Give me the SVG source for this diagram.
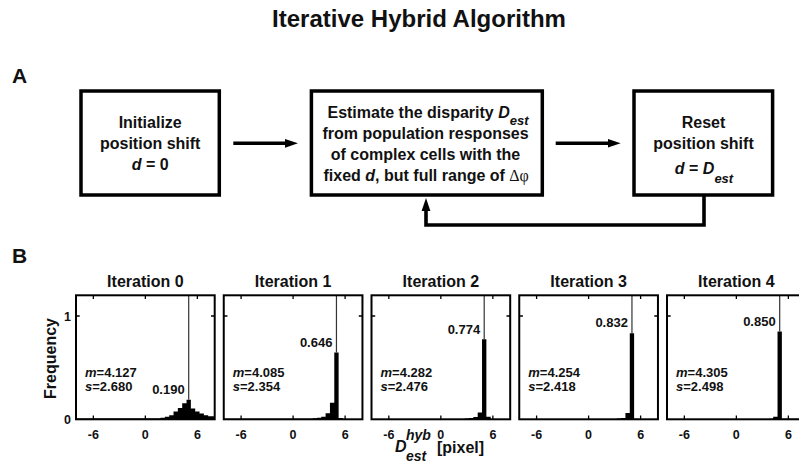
<svg xmlns="http://www.w3.org/2000/svg" xmlns:xlink="http://www.w3.org/1999/xlink" width="799" height="465" viewBox="0 0 799 465">
<style>
text{font-family:"Liberation Sans",Arial,sans-serif;font-weight:bold;fill:#111}
.box{fill:#fff;stroke:#000;stroke-width:3.5}
.bt{font-size:16px;text-anchor:middle}
.it{font-style:italic}
.conn{fill:none;stroke:#000;stroke-width:3.6}
.ttl{font-size:16px;text-anchor:middle}
.tick{font-size:12.5px;text-anchor:middle}
.stat{font-size:13px}
.pk{font-size:13px;text-anchor:end}
.hist{fill:#000}
.vl{stroke:#333;stroke-width:1.2}
</style>
<defs>
<marker id="ah" markerUnits="userSpaceOnUse" markerWidth="14" markerHeight="10" viewBox="0 -5 14 10" refX="1" refY="0" orient="auto">
<path d="M0,-4.4 L13,0 L0,4.4 Z" fill="#000"/>
</marker>
<g id="axes">
<rect x="0" y="295.3" width="138.7" height="124" fill="none" stroke="#000" stroke-width="2"/>
<path d="M17.34,295.3v3.7 M69.35,295.3v3.7 M121.36,295.3v3.7 M17.34,419.3v-3.7 M69.35,419.3v-3.7 M121.36,419.3v-3.7 M0,316h3.7 M138.7,316h-3.7" stroke="#000" stroke-width="1.3"/>
<text class="tick" x="17.34" y="438.5">-6</text>
<text class="tick" x="69.35" y="438.5">0</text>
<text class="tick" x="121.36" y="438.5">6</text>
</g>
</defs>
<rect width="799" height="465" fill="#fff"/>
<text x="419" y="27" style="font-size:24px;text-anchor:middle">Iterative Hybrid Algorithm</text>
<text x="12" y="83" style="font-size:21px">A</text>
<text x="12" y="262.5" style="font-size:21px">B</text>

<g id="connectors">
<line class="conn" x1="233.3" y1="143.3" x2="286" y2="143.3" marker-end="url(#ah)"/>
<line class="conn" x1="555.7" y1="143.3" x2="608.7" y2="143.3" marker-end="url(#ah)"/>
<polyline class="conn" points="704,195 704,225 426,225 426,210" marker-end="url(#ah)"/>
</g>

<g id="box-init">
<rect class="box" x="81" y="91" width="138.3" height="104"/>
<text class="bt" x="150.2" y="128">Initialize</text>
<text class="bt" x="150.2" y="149">position shift</text>
<text class="bt" x="150.2" y="170"><tspan class="it">d</tspan> = 0</text>
</g>

<g id="box-estimate">
<rect class="box" x="311.4" y="91" width="230.9" height="104"/>
<text class="bt" x="428" y="118">Estimate the disparity <tspan class="it">D</tspan><tspan class="it" dy="6.5" style="font-size:13px">est</tspan></text>
<text class="bt" x="425.5" y="139.3">from population responses</text>
<text class="bt" x="425.5" y="160">of complex cells with the</text>
<text class="bt" x="426.2" y="180.5">fixed <tspan class="it">d</tspan>, but full range of <tspan style="font-family:'Liberation Serif',serif;font-weight:normal">Δφ</tspan></text>
</g>

<g id="box-reset">
<rect class="box" x="634" y="91" width="138.6" height="104"/>
<text class="bt" x="703.5" y="128.3">Reset</text>
<text class="bt" x="703.5" y="149">position shift</text>
<text class="bt" x="704" y="174.3"><tspan class="it">d</tspan> = <tspan class="it">D</tspan><tspan class="it" dy="8.3" style="font-size:13px">est</tspan></text>
</g>

<text transform="translate(56,358.5) rotate(-90)" style="font-size:16px;text-anchor:middle">Frequency</text>
<text x="71" y="320.5" style="font-size:12.5px;text-anchor:end">1</text>
<text x="71" y="423.5" style="font-size:12.5px;text-anchor:end">0</text>

<g id="panel-0" transform="translate(76,0)">
<text class="ttl" x="69.35" y="286.7">Iteration 0</text>
<path class="hist" transform="translate(69.35,419.3) scale(8.669,-103.3)" d="M-8,0 V0.008 H1.75 V0.015 H2.25 V0.025 H2.75 V0.04 H3.25 V0.075 H3.75 V0.11 H4.25 V0.155 H4.75 V0.19 H5.25 V0.105 H5.75 V0.075 H6.25 V0.055 H6.75 V0.04 H7.25 V0.03 H8 V0 Z"/>
<line class="vl" x1="112.7" y1="295.3" x2="112.7" y2="399.7"/>
<use xlink:href="#axes"/>
<text class="stat" x="9" y="376.5"><tspan class="it">m</tspan>=4.127</text>
<text class="stat" x="9" y="390.5"><tspan class="it">s</tspan>=2.680</text>
<text class="pk" x="108.7" y="394">0.190</text>
</g>

<g id="panel-1" transform="translate(223.75,0)">
<text class="ttl" x="69.35" y="286.7">Iteration 1</text>
<path class="hist" transform="translate(69.35,419.3) scale(8.669,-103.3)" d="M-8,0 V0.005 H2.25 V0.01 H2.75 V0.015 H3.25 V0.025 H3.75 V0.058 H4.25 V0.16 H4.75 V0.646 H5.25 V0.012 H5.75 V0.004 H8 V0 Z"/>
<line class="vl" x1="112.7" y1="295.3" x2="112.7" y2="352.6"/>
<use xlink:href="#axes"/>
<text class="stat" x="9" y="376.5"><tspan class="it">m</tspan>=4.085</text>
<text class="stat" x="9" y="390.5"><tspan class="it">s</tspan>=2.354</text>
<text class="pk" x="108.7" y="346.5">0.646</text>
</g>

<g id="panel-2" transform="translate(371.5,0)">
<text class="ttl" x="69.35" y="286.7">Iteration 2</text>
<path class="hist" transform="translate(69.35,419.3) scale(8.669,-103.3)" d="M-8,0 V0.004 H2.75 V0.008 H3.25 V0.012 H3.75 V0.022 H4.25 V0.065 H4.75 V0.774 H5.25 V0.025 H5.75 V0.004 H8 V0 Z"/>
<line class="vl" x1="112.7" y1="295.3" x2="112.7" y2="339.4"/>
<use xlink:href="#axes"/>
<text class="stat" x="9" y="376.5"><tspan class="it">m</tspan>=4.282</text>
<text class="stat" x="9" y="390.5"><tspan class="it">s</tspan>=2.476</text>
<text class="pk" x="108.7" y="333.5">0.774</text>
</g>

<g id="panel-3" transform="translate(519.25,0)">
<text class="ttl" x="69.35" y="286.7">Iteration 3</text>
<path class="hist" transform="translate(69.35,419.3) scale(8.669,-103.3)" d="M-8,0 V0.004 H3.25 V0.008 H3.75 V0.012 H4.25 V0.06 H4.75 V0.832 H5.25 V0.006 H5.75 V0.003 H8 V0 Z"/>
<line class="vl" x1="112.7" y1="295.3" x2="112.7" y2="333.4"/>
<use xlink:href="#axes"/>
<text class="stat" x="9" y="376.5"><tspan class="it">m</tspan>=4.254</text>
<text class="stat" x="9" y="390.5"><tspan class="it">s</tspan>=2.418</text>
<text class="pk" x="108.7" y="327.2">0.832</text>
</g>

<g id="panel-4" transform="translate(667,0)">
<text class="ttl" x="69.35" y="286.7">Iteration 4</text>
<path class="hist" transform="translate(69.35,419.3) scale(8.669,-103.3)" d="M-8,0 V0.003 H3.75 V0.006 H4.25 V0.025 H4.75 V0.85 H5.25 V0.006 H8 V0 Z"/>
<line class="vl" x1="112.7" y1="295.3" x2="112.7" y2="331.5"/>
<use xlink:href="#axes"/>
<text class="stat" x="9" y="376.5"><tspan class="it">m</tspan>=4.305</text>
<text class="stat" x="9" y="390.5"><tspan class="it">s</tspan>=2.498</text>
<text class="pk" x="108.7" y="326">0.850</text>
</g>

<g id="x-label">
<text class="it" x="395" y="452" style="font-size:16px">D</text>
<text class="it" x="406" y="439.5" style="font-size:14px">hyb</text>
<text class="it" x="406" y="461" style="font-size:14px">est</text>
<text x="437" y="452.5" style="font-size:16px">[pixel]</text>
</g>
</svg>
